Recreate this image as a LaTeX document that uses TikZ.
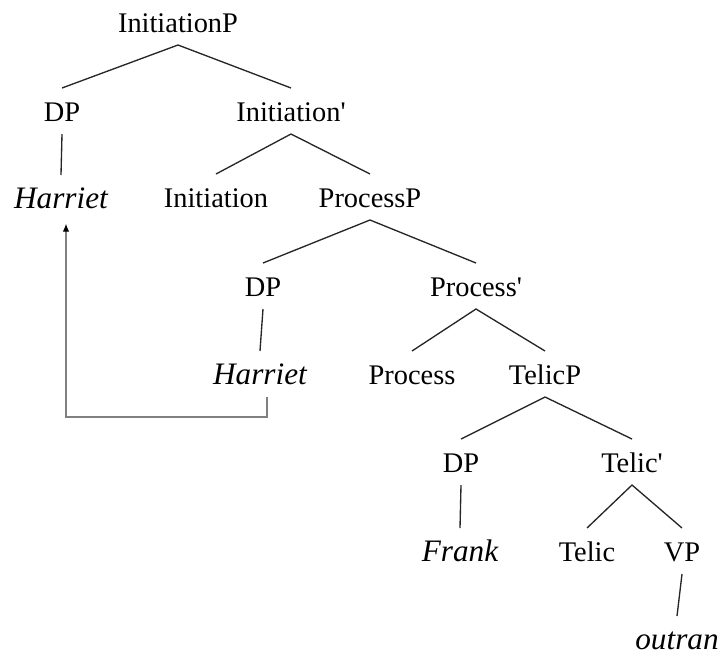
\documentclass[tikz,border=0pt]{standalone}
\usepackage{fontspec}
\setmainfont[Ligatures=TeXOff]{Liberation Serif}
\newfontfamily\itfam[Scale=1.1,Ligatures=TeXOff]{Liberation Serif Italic}
\usetikzlibrary{arrows.meta}
\tikzset{
  lbl/.style={inner sep=0pt, outer sep=0pt, anchor=base,
    text height=24.75pt, text depth=9.75pt,
    font=\fontsize{21.3}{25}\selectfont},
  word/.style={lbl, font=\fontsize{21.3}{25}\selectfont\itfam},
  branch/.style={draw=black!85, line width=1pt},
  move/.style={draw=black!50, line width=1pt,
    -{Latex[length=6pt,width=5pt,black]}}
}
\begin{document}
\begin{tikzpicture}[x=0.75pt,y=-0.75pt]
\useasboundingbox (0,0) rectangle (723,654);
% phrase labels, row by row
\node[lbl] (ip)   at (178,32)  {InitiationP};
\node[lbl] (dp1)  at (62,121)  {DP};
\node[lbl] (ib)   at (291,121) {Initiation'};
\node[word] (h1)  at (61,208)  {Harriet};
\node[lbl] (init) at (216,207) {Initiation};
\node[lbl] (pp)   at (370,207) {ProcessP};
\node[lbl] (dp2)  at (263,296) {DP};
\node[lbl] (pb)   at (476,296) {Process'};
\node[word] (h2)  at (260,384) {Harriet};
\node[lbl] (proc) at (412,384) {Process};
\node[lbl] (tp)   at (545,384) {TelicP};
\node[lbl] (dp3)  at (461,472) {DP};
\node[lbl] (tb)   at (632,472) {Telic'};
\node[word] (fr)  at (460,561) {Frank};
\node[lbl] (tel)  at (587,561) {Telic};
\node[lbl] (vp)   at (682,561) {VP};
\node[word] (out) at (677,649) {outran};
% branches
\draw[branch] (dp1.north) -- (ip.south) -- (ib.north);
\draw[branch] (dp1.south) -- (h1.north);
\draw[branch] (init.north) -- (ib.south) -- (pp.north);
\draw[branch] (dp2.north) -- (pp.south) -- (pb.north);
\draw[branch] (dp2.south) -- (h2.north);
\draw[branch] (proc.north) -- (pb.south) -- (tp.north);
\draw[branch] (dp3.north) -- (tp.south) -- (tb.north);
\draw[branch] (dp3.south) -- (fr.north);
\draw[branch] (tel.north) -- (tb.south) -- (vp.north);
\draw[branch] (vp.south) -- (out.north);
% movement of the subject
\draw[move, shorten >=2] ([xshift=5.25pt]h2.south) -- ++(0,20) -| ([xshift=3.75pt]h1.south);
\end{tikzpicture}
\end{document}
